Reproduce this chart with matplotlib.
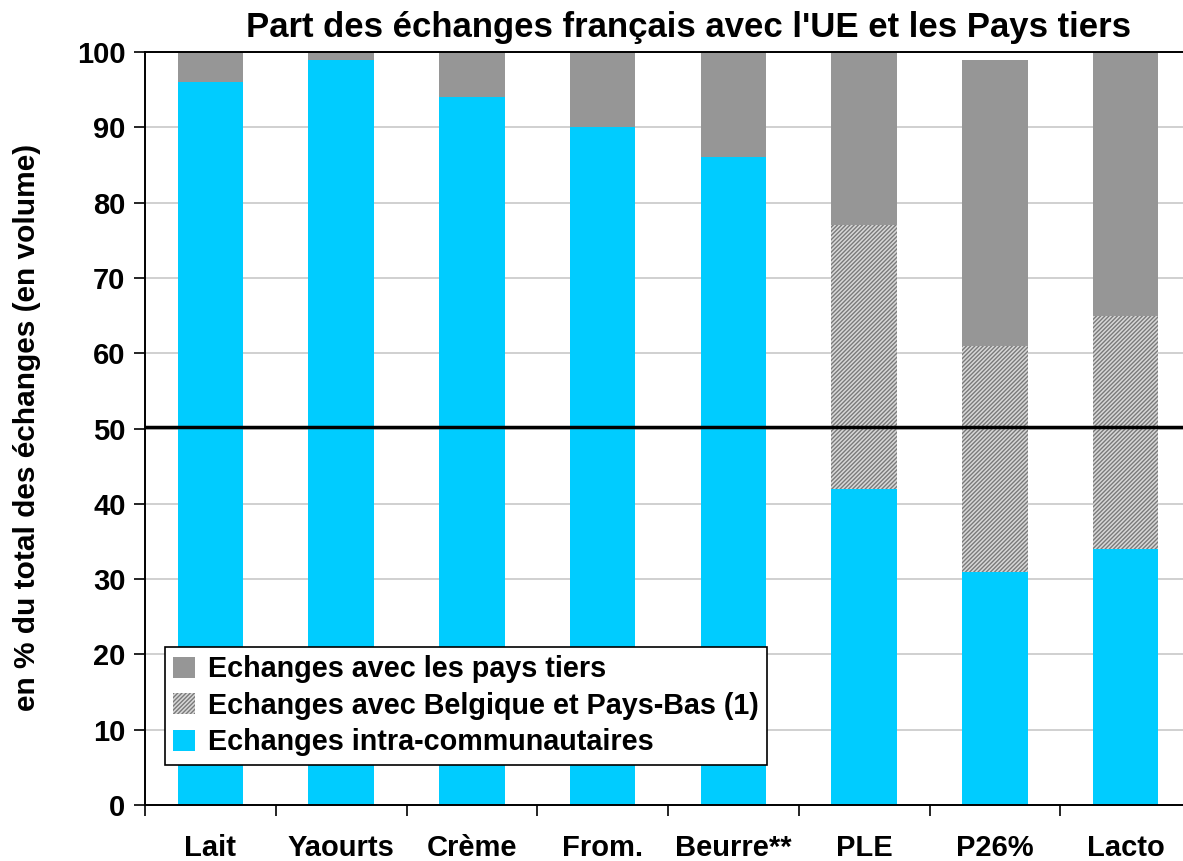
# Part des echanges francais - stacked bars

import numpy as np
import matplotlib.pyplot as plt

plt.rcParams['font.family'] = ['Liberation Sans', 'DejaVu Sans']
plt.rcParams['hatch.linewidth'] = 1.0

# Data (% of trade volume)
categories = ['Lait', 'Yaourts', 'Crème', 'From.', 'Beurre**', 'PLE', 'P26%', 'Lacto']
intra_ue = [96, 99, 94, 90, 86, 42, 31, 34]
belg_pb = [0, 0, 0, 0, 0, 35, 30, 31]
pays_tiers = [4, 1, 6, 10, 14, 23, 38, 35]
ref_line = 50.2

fig = plt.figure(figsize=(11.83, 8.61), dpi=100)
ax = fig.add_axes([145 / 1183, 56 / 861, 1046 / 1183, 753 / 861])

x = np.arange(len(categories))
intra = np.array(intra_ue)
belg = np.array(belg_pb)
tiers = np.array(pays_tiers)

b1 = ax.bar(x, intra, width=0.5, color='#00CCFF', zorder=2,
            label='Echanges intra-communautaires')
b2 = ax.bar(x, belg, width=0.5, bottom=intra, facecolor='#d8d8d8',
            edgecolor='#7a7a7a', hatch='////////', linewidth=0, zorder=2,
            label='Echanges avec Belgique et Pays-Bas (1)')
b3 = ax.bar(x, tiers, width=0.5, bottom=intra + belg, color='#969696', zorder=2,
            label='Echanges avec les pays tiers')

ax.axhline(ref_line, color='black', linewidth=2.5, zorder=3)

ax.set_xlim(-0.5, len(categories) - 0.5)
ax.set_ylim(0, 100)
ax.set_yticks(np.arange(0, 101, 10))
ax.yaxis.grid(True, color='#c8c8c8', linewidth=1.2, zorder=0)
ax.set_axisbelow(True)

ax.set_xticks(x)
ax.set_xticklabels(categories, fontsize=21, fontweight='bold')
ax.set_xticks(np.arange(-0.5, len(categories), 1), minor=True)
ax.tick_params(axis='x', which='major', length=0, pad=21)
ax.tick_params(axis='x', which='minor', length=8, width=1.2, direction='out')
ax.tick_params(axis='y', length=8, width=1.2, labelsize=21, pad=6)
for lab in ax.get_yticklabels():
    lab.set_fontweight('bold')

ax.spines['right'].set_visible(False)
for s in ['left', 'bottom', 'top']:
    ax.spines[s].set_linewidth(1.4)

ax.set_ylabel('en % du total des échanges (en volume)', fontsize=21.5,
              fontweight='bold')
ax.yaxis.set_label_coords(-0.0995, 0.502)
fig.text(688 / 1183, 1 - 28 / 861,
         "Part des échanges français avec l'UE et les Pays tiers",
         ha='center', va='center', fontsize=25, fontweight='bold')

leg = ax.legend(handles=[b3, b2, b1], loc='lower left',
                bbox_to_anchor=(0.019, 0.053), borderaxespad=0,
                prop={'weight': 'bold', 'size': 20.7},
                fancybox=False, framealpha=1, edgecolor='black',
                handlelength=0.75, handleheight=0.75, handletextpad=0.45,
                labelspacing=0.3, borderpad=0.3)
leg.get_frame().set_linewidth(1.2)

fig.savefig('out.png', dpi=100)
